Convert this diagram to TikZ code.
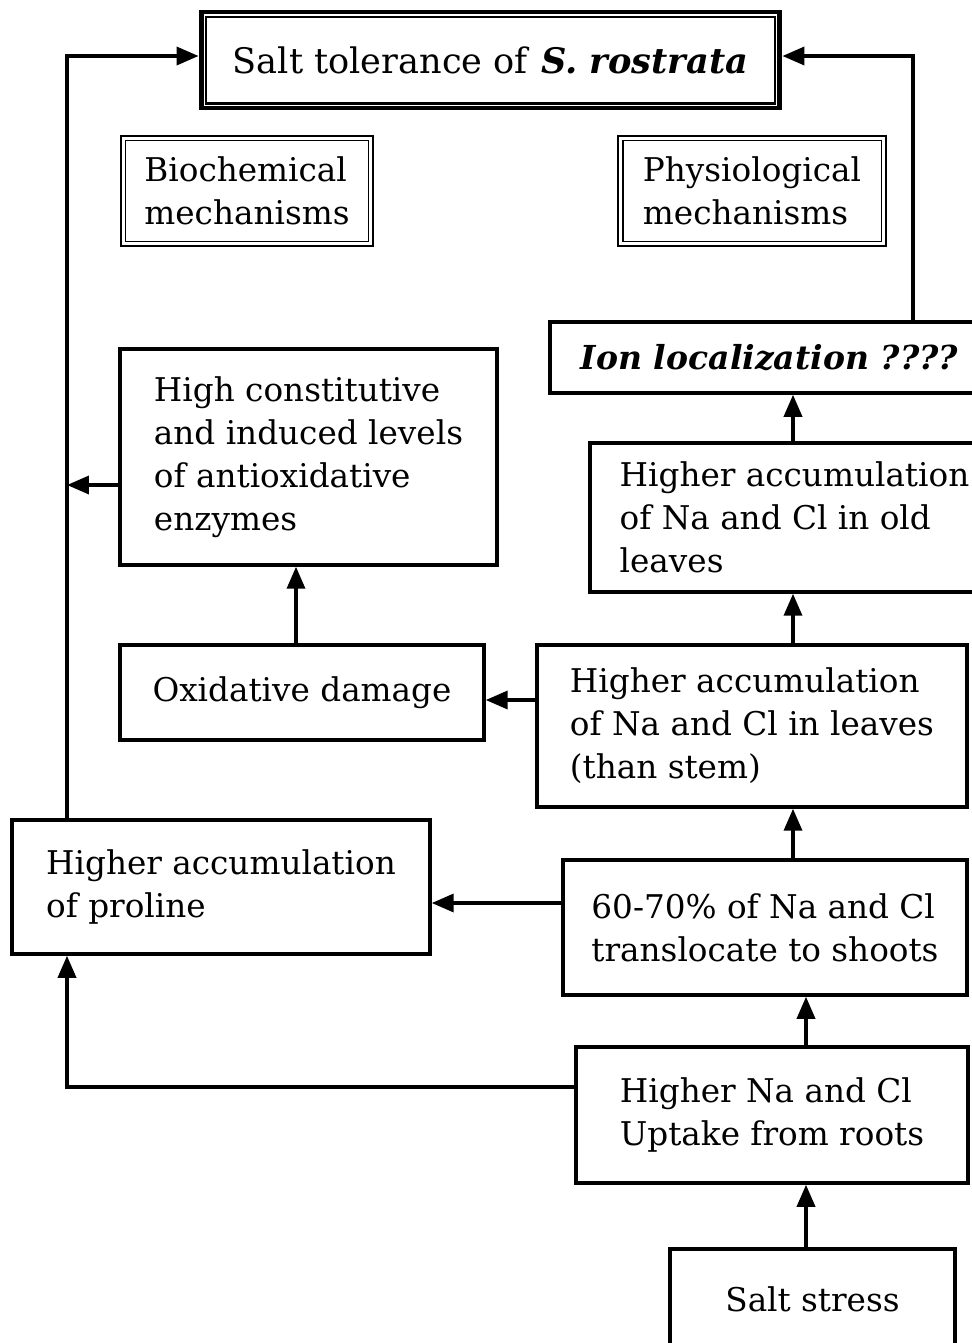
\documentclass[tikz,border=0pt]{standalone}
\usepackage{fontspec}
\setmainfont{DejaVu Serif}
\usepackage{tikz}
\usetikzlibrary{arrows.meta}
\usetikzlibrary{calc}

\begin{document}
\begin{tikzpicture}[x=0.02cm,y=-0.02cm,
  box/.style={draw,line width=2pt,align=left,inner sep=0pt,font=\fontsize{18.6}{24.5}\selectfont},
  dblbox/.style={box,line width=1.4pt},
  innerline/.style={line width=0.8pt},
  arr/.style={line width=2pt,-{Triangle[length=0.44cm,width=0.36cm]}}]
\path[use as bounding box] (0,0) rectangle (972,1343);
\clip (0,0) rectangle (972,1343);
\fill[white] (0,0) rectangle (972,1343);

\coordinate (lft) at (67,0);
\coordinate (rgt) at (913,0);
\coordinate (mida) at (793,0);
\coordinate (midb) at (806,0);
\coordinate (oxx) at (296,0);
\coordinate (yt) at (0,56);
\coordinate (yh) at (0,485);
\coordinate (ya) at (0,903);
\coordinate (yb) at (0,1087);
\coordinate (yc) at (0,700);

\node[box,line width=2.8pt,minimum width=11.58cm,minimum height=1.92cm,font=\fontsize{20}{27}\selectfont] (title) at (490.5,60) {Salt tolerance of \textbf{\textit{S. rostrata}}};
\draw[line width=1.2pt] ([shift={(7,7)}]title.north west) rectangle ([shift={(-7,-7)}]title.south east);
\node[dblbox,minimum width=5.04cm,minimum height=2.2cm] (bio) at (247,191) {Biochemical\\mechanisms};
\draw[innerline] ([shift={(6,6)}]bio.north west) rectangle ([shift={(-6,-6)}]bio.south east);
\node[dblbox,minimum width=5.36cm,minimum height=2.2cm] (phys) at (752,191) {Physiological\\mechanisms};
\draw[innerline] ([shift={(6,6)}]phys.north west) rectangle ([shift={(-6,-6)}]phys.south east);

\node[box,minimum width=8.78cm,minimum height=1.42cm,font=\fontsize{18.8}{24.5}\selectfont] (ion) at (769.5,357.5) {\bfseries\itshape Ion localization ????};
\node[box,minimum width=7.54cm,minimum height=4.32cm] (hc) at (308.5,457) {High constitutive\\and induced levels\\of antioxidative\\enzymes};
\node[box,minimum width=8.18cm,minimum height=2.98cm] (old) at (794.5,517.5) {Higher accumulation\\of Na and Cl in old\\leaves};
\node[box,minimum width=7.28cm,minimum height=1.9cm] (oxid) at (302,692.5) {Oxidative damage};
\node[box,minimum width=8.6cm,minimum height=3.24cm] (leaves) at (752,726) {Higher accumulation\\of Na and Cl in leaves\\(than stem)};
\node[box,minimum width=8.36cm,minimum height=2.68cm] (proline) at (221,887) {Higher accumulation\\of proline};
\node[box,minimum width=8.08cm,minimum height=2.7cm] (trans) at (765,927.5) {60-70\% of Na and Cl\\translocate to shoots};
\node[box,minimum width=7.84cm,minimum height=2.72cm] (uptake) at (772,1115) {Higher Na and Cl\\Uptake from roots};
\node[box,minimum width=5.7cm,minimum height=2cm] (salt) at (812.5,1299) {Salt stress};

\draw[arr] (proline.north -| lft) |- (title.west |- yt);
\draw[arr] (ion.north -| rgt) |- (title.east |- yt);
\draw[arr] (hc.west |- yh) -- (lft |- yh);
\draw[arr] (oxid.north -| oxx) -- (hc.south -| oxx);
\draw[arr] (leaves.west |- yc) -- (oxid.east |- yc);
\draw[arr] (leaves.north -| mida) -- (old.south -| mida);
\draw[arr] (old.north -| mida) -- (ion.south -| mida);
\draw[arr] (trans.north -| mida) -- (leaves.south -| mida);
\draw[arr] (trans.west |- ya) -- (proline.east |- ya);
\draw[arr] (uptake.north -| midb) -- (trans.south -| midb);
\draw[arr] (uptake.west |- yb) -| (proline.south -| lft);
\draw[arr] (salt.north -| midb) -- (uptake.south -| midb);
\end{tikzpicture}
\end{document}
